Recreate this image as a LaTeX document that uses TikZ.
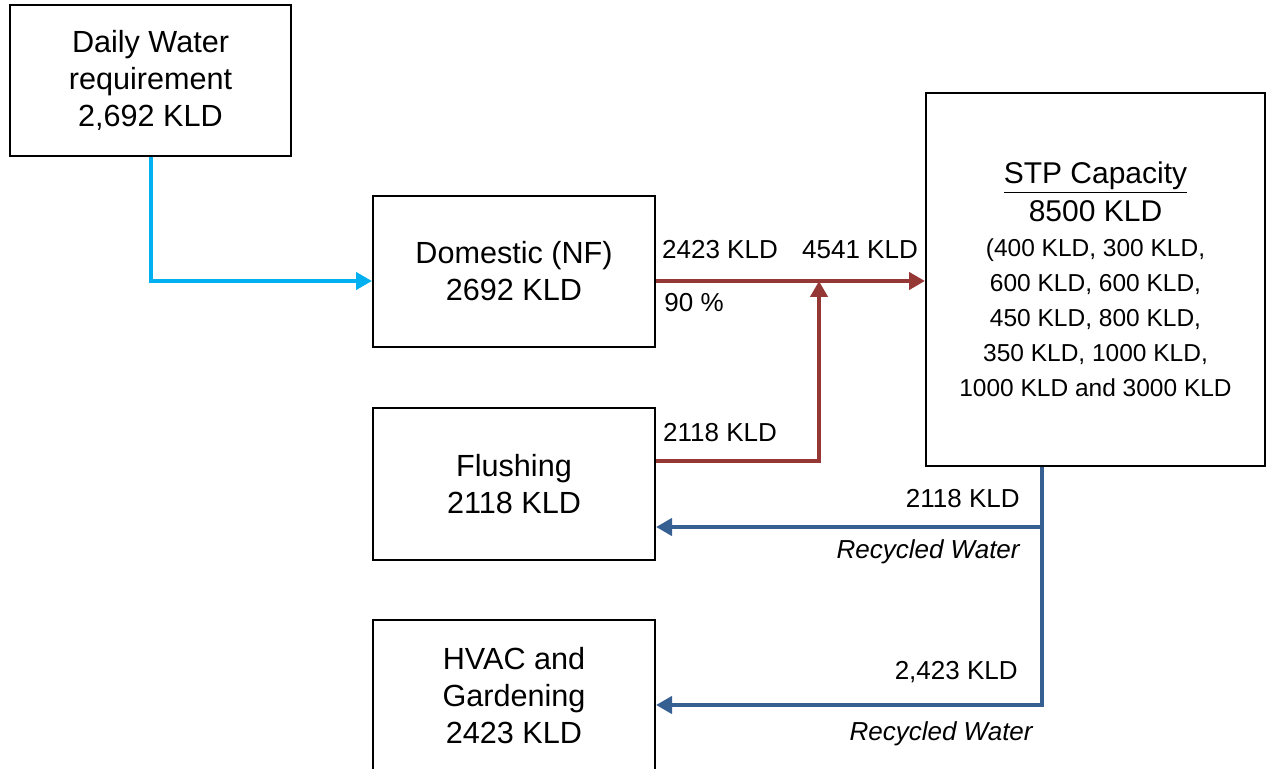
\documentclass[tikz,border=0pt]{standalone}
\usepackage{fontspec}
\setmainfont{Liberation Sans}
\usetikzlibrary{arrows.meta}
\definecolor{supply}{RGB}{0,176,240}
\definecolor{sewage}{RGB}{149,55,53}
\definecolor{recycle}{RGB}{55,96,146}
\newcommand\stphead{\fontsize{15}{19}\selectfont}
\tikzset{
  box/.style={draw,line width=1pt,align=center,minimum width=141pt,minimum height=75.5pt,
    font=\fontsize{15.3}{18.5}\selectfont},
  flow/.style={line width=2pt,-{Triangle[length=8pt,width=8.5pt]}},
  lbl/.style={font=\fontsize{13}{15}\selectfont,inner sep=0pt},
}
\begin{document}
\begin{tikzpicture}[x=0.5pt,y=-0.5pt]
\useasboundingbox (0,0) rectangle (1267,769);

\node[box,minimum width=140.5pt] (daily) at (150.5,80.5) {Daily Water\\requirement\\2,692 KLD};
\node[box] (dom) at (514,271.5) {Domestic (NF)\\2692 KLD};
\node[box] (flush) at (514,484) {Flushing\\2118 KLD};
\node[box] (hvac) at (514,695.5) {HVAC and\\Gardening\\2423 KLD};
\node[box,inner sep=0pt,minimum width=169.5pt,minimum height=186.5pt,font=\fontsize{12.25}{17.5}\selectfont] (stp) at (1095.5,279.5)
  {\stphead\underline{STP Capacity}\\[1.5pt]\stphead 8500 KLD\\(400 KLD, 300 KLD,\\600 KLD, 600 KLD,\\450 KLD, 800 KLD,\\350 KLD, 1000 KLD,\\1000 KLD and 3000 KLD};

\coordinate (j) at (819,281);
\coordinate (b1) at (1042,527);
\coordinate (b2) at (1042,705);

\draw[flow,supply] (daily.south) |- ([yshift=-4.75pt]dom.west);
\draw[flow,sewage] ([yshift=-4.75pt]dom.east) -- (stp.west |- j);
\draw[flow,sewage] ([yshift=11.5pt]flush.east) -| (j);
\draw[flow,recycle] (stp.south -| b1) -- (b2) -- (hvac.east |- b2);
\draw[flow,recycle] (b1) -- (flush.east |- b1);

\node[lbl] (l1) at (720,250) {2423 KLD};
\node[lbl] (l2) at (860,250) {4541 KLD};
\node[lbl,anchor=west] (l3) at (664,303) {90 \%};
\node[lbl] (l4) at (720,433) {2118 KLD};
\node[lbl,anchor=east] (l5) at (1020,499) {2118 KLD};
\node[lbl,anchor=east] (l6) at (1020,552) {\itshape Recycled Water};
\node[lbl,anchor=east] (l7) at (1018,672) {2,423 KLD};
\node[lbl,anchor=east] (l8) at (1033,734) {\itshape Recycled Water};
\end{tikzpicture}
\end{document}
